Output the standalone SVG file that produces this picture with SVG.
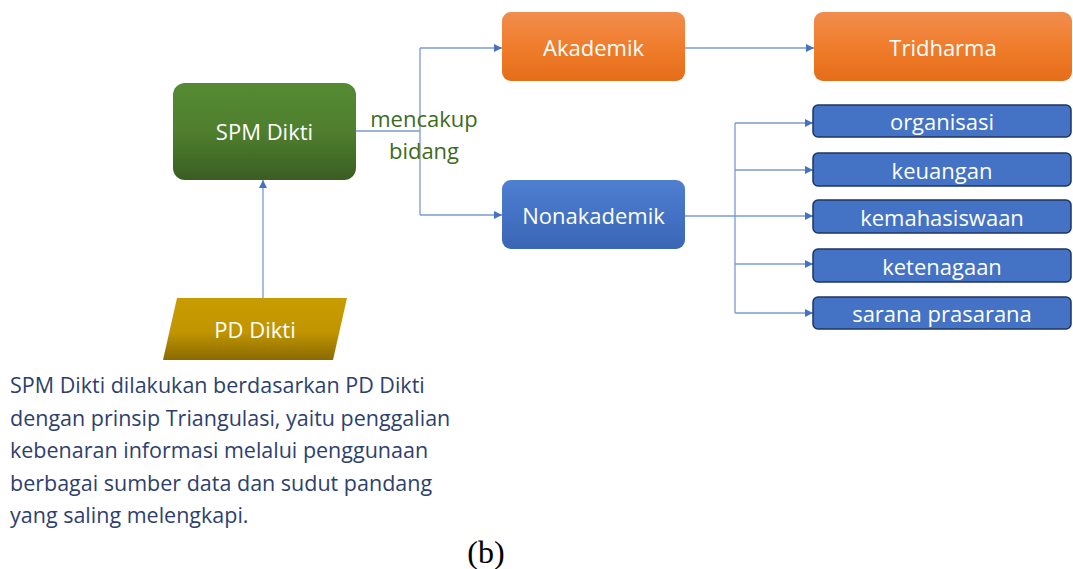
<svg xmlns="http://www.w3.org/2000/svg" width="1073" height="569" viewBox="0 0 1073 569">
<defs>
<linearGradient id="gGreen" x1="0" y1="0" x2="0" y2="1"><stop offset="0" stop-color="#558a32"/><stop offset="0.5" stop-color="#4f7f2e"/><stop offset="1" stop-color="#3a5d22"/></linearGradient>
<linearGradient id="gOrange" x1="0" y1="0" x2="0" y2="1"><stop offset="0" stop-color="#f08d4e"/><stop offset="0.5" stop-color="#f07d2c"/><stop offset="1" stop-color="#e46d18"/></linearGradient>
<linearGradient id="gBlue" x1="0" y1="0" x2="0" y2="1"><stop offset="0" stop-color="#4f7fd0"/><stop offset="0.5" stop-color="#4472c4"/><stop offset="1" stop-color="#3a66b4"/></linearGradient>
<linearGradient id="gGold" x1="0" y1="0" x2="0" y2="1"><stop offset="0" stop-color="#c89c00"/><stop offset="0.55" stop-color="#c09500"/><stop offset="1" stop-color="#8a6a00"/></linearGradient>
<marker id="arr" viewBox="0 0 10 10" refX="10" refY="5" markerWidth="8" markerHeight="8" markerUnits="userSpaceOnUse" orient="auto"><path d="M0,0 L10,5 L0,10 z" fill="#4472c4"/></marker>
</defs>
<style>
.lbl{font-family:"Open Sans","Liberation Sans",sans-serif;fill:#ffffff;text-anchor:middle;dominant-baseline:central}
.big{font-size:22px}
.small{font-size:22px}
.con{fill:none;stroke:#7a9ad4;stroke-width:1.3}
.sub{fill:#4472c4;stroke:#1f3460;stroke-width:1.5}
.para{font-family:"Open Sans","Liberation Sans",sans-serif;font-size:21.5px;fill:#2e3f6e}
</style>
<rect width="1073" height="569" fill="#ffffff"/>
<g id="connectors">
<path class="con" d="M356,131 H420"/>
<path class="con" d="M420,48 V215"/>
<path class="con" d="M420,48 H502" marker-end="url(#arr)"/>
<path class="con" d="M420,215 H502" marker-end="url(#arr)"/>
<path class="con" d="M685,48 H814" marker-end="url(#arr)"/>
<path class="con" d="M685,216 H735"/>
<path class="con" d="M735,123 V313"/>
<path class="con" d="M735,123 H813" marker-end="url(#arr)"/>
<path class="con" d="M735,170 H813" marker-end="url(#arr)"/>
<path class="con" d="M735,216 H813" marker-end="url(#arr)"/>
<path class="con" d="M735,264 H813" marker-end="url(#arr)"/>
<path class="con" d="M735,313 H813" marker-end="url(#arr)"/>
<path class="con" d="M263,298 V180" marker-end="url(#arr)"/>
</g>
<g id="label-mencakup">
<text x="424" y="118" font-family="Open Sans, Liberation Sans, sans-serif" font-size="22" fill="#3f6b20" text-anchor="middle" dominant-baseline="central">mencakup</text>
<text x="424" y="150" font-family="Open Sans, Liberation Sans, sans-serif" font-size="22" fill="#3f6b20" text-anchor="middle" dominant-baseline="central">bidang</text>
</g>
<g id="spm-dikti">
<rect x="173" y="83" width="183" height="97" rx="12" fill="url(#gGreen)"/>
<text class="lbl big" x="264.5" y="131">SPM Dikti</text>
</g>
<g id="akademik">
<rect x="502" y="12" width="183" height="69" rx="9" fill="url(#gOrange)"/>
<text class="lbl big" x="593.5" y="47">Akademik</text>
</g>
<g id="tridharma">
<rect x="814" y="12" width="258" height="69" rx="9" fill="url(#gOrange)"/>
<text class="lbl big" x="943" y="47">Tridharma</text>
</g>
<g id="nonakademik">
<rect x="502" y="180" width="183" height="69" rx="9" fill="url(#gBlue)"/>
<text class="lbl big" x="593.5" y="215">Nonakademik</text>
</g>
<g id="organisasi">
<rect class="sub" x="813" y="105" width="258" height="32" rx="5"/>
<text class="lbl small" x="942" y="121">organisasi</text>
</g>
<g id="keuangan">
<rect class="sub" x="813" y="153" width="258" height="33" rx="5"/>
<text class="lbl small" x="942" y="169.5">keuangan</text>
</g>
<g id="kemahasiswaan">
<rect class="sub" x="813" y="200" width="258" height="33" rx="5"/>
<text class="lbl small" x="942" y="216.5">kemahasiswaan</text>
</g>
<g id="ketenagaan">
<rect class="sub" x="813" y="249" width="258" height="33" rx="5"/>
<text class="lbl small" x="942" y="265.5">ketenagaan</text>
</g>
<g id="sarana-prasarana">
<rect class="sub" x="813" y="297" width="258" height="32" rx="5"/>
<text class="lbl small" x="942" y="313">sarana prasarana</text>
</g>
<g id="pd-dikti">
<polygon points="177,298 347,298 333,360 163,360" fill="url(#gGold)"/>
<text class="lbl big" x="255" y="329">PD Dikti</text>
</g>
<g id="caption">
<text class="para" x="10" y="393">SPM Dikti dilakukan berdasarkan PD Dikti</text>
<text class="para" x="10" y="425.5">dengan prinsip Triangulasi, yaitu penggalian</text>
<text class="para" x="10" y="458">kebenaran informasi melalui penggunaan</text>
<text class="para" x="10" y="490.5">berbagai sumber data dan sudut pandang</text>
<text class="para" x="10" y="523">yang saling melengkapi.</text>
<text x="486" y="563" font-family="Liberation Serif, serif" font-size="32" fill="#000000" text-anchor="middle">(b)</text>
</g>
</svg>
